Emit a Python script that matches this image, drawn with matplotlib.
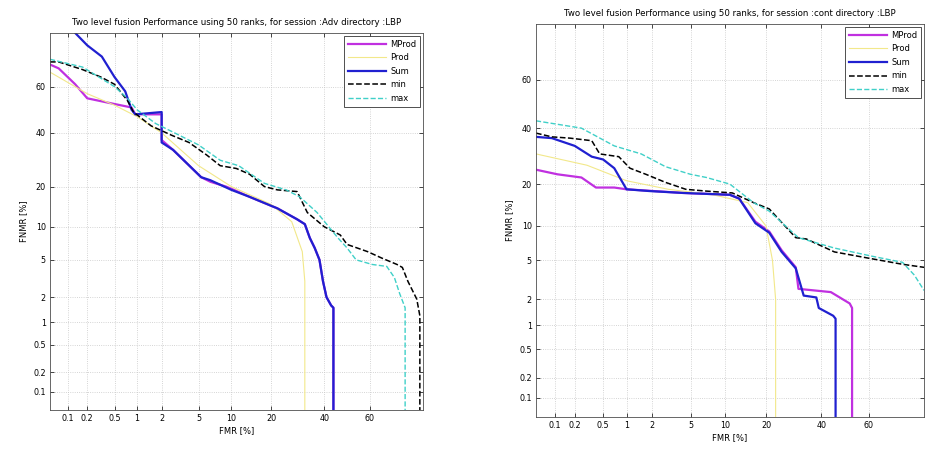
import math
import numpy as np
import matplotlib
matplotlib.use("Agg")
import matplotlib.pyplot as plt
from matplotlib.ticker import FixedLocator, NullLocator

# ---- data: FMR [%] / FNMR [%] pairs ----
labels = ["MProd", "Prod", "Sum", "min", "max"]
ticks = [0.1, 0.2, 0.5, 1, 2, 5, 10, 20, 40, 60]
tick_labels = ["0.1", "0.2", "0.5", "1", "2", "5", "10", "20", "40", "60"]

# left panel, session :Adv
mprod_L_far = [0.05, 0.07, 0.13, 0.2, 0.42, 0.85, 0.95, 2, 2, 2.7, 5.3, 6.5, 9, 10.5, 14, 22, 29, 32, 34, 36, 38, 39.5, 41, 43, 44, 44]
mprod_L_frr = [69, 67.5, 61, 55, 53, 51, 48, 48, 37, 33, 23, 21.5, 20, 19, 17, 14, 11.5, 10.5, 8, 6.5, 5, 3, 2, 1.6, 1.5, 0.01]
prod_L_far = [0.05, 0.2, 0.5, 1, 2, 5, 10, 20, 27, 31, 32, 32]
prod_L_frr = [66, 57, 52, 47, 40, 27, 20, 15, 11, 6, 3, 0.01]
sum_L_far = [0.1, 0.13, 0.2, 0.33, 0.5, 0.7, 0.85, 0.95, 2, 2, 2.7, 5.3, 6.5, 10, 14, 22, 29, 32, 34, 36, 38, 39.5, 41, 43, 44, 44]
sum_L_frr = [85, 80, 76, 72, 64, 58, 50, 48, 49, 36, 33, 23, 22, 19, 17, 14, 11.5, 10.5, 8, 6.5, 5, 3, 2, 1.6, 1.5, 0.01]
min_L_far = [0.05, 0.07, 0.17, 0.32, 0.5, 0.75, 0.9, 1.5, 2.6, 4, 6, 8, 11, 14, 18, 22, 29, 33, 40, 47, 50, 59, 65, 71, 73, 75, 78, 79, 79]
min_L_frr = [70, 70, 67, 64, 61, 54, 49, 43, 39, 36, 31, 27, 26, 24, 20, 19, 18.5, 13, 10, 8.5, 7, 6, 5.2, 4.5, 4.2, 3, 1.9, 1.2, 0.01]
max_L_far = [0.05, 0.17, 0.5, 0.75, 1, 1.7, 2.8, 5, 8, 11.5, 18, 25, 30, 37, 46, 50, 54, 61, 67, 70, 72, 74, 74]
max_L_frr = [71, 68, 60, 55, 50, 44, 40, 35, 29, 27, 21, 19, 17, 13, 8, 6.5, 5, 4.5, 4.3, 3.3, 2.2, 1.5, 0.01]

# right panel, session :cont
mprod_R_far = [0.05, 0.11, 0.25, 0.4, 0.7, 1, 4.2, 11, 13, 17, 21, 25, 30, 31, 44, 52, 53, 53]
mprod_R_frr = [24.5, 23, 22, 19, 19, 18.5, 17.5, 17, 16, 10.8, 9, 6.2, 4.3, 2.6, 2.4, 1.8, 1.6, 0.01]
prod_R_far = [0.05, 0.3, 1, 3, 8, 15, 20, 22, 23, 23]
prod_R_frr = [30, 26, 21, 18.5, 17, 15, 10, 5, 2, 0.01]
sum_R_far = [0.05, 0.09, 0.2, 0.35, 0.5, 0.7, 1, 1.9, 4.2, 11, 13, 17, 21, 25, 30, 33, 38, 39, 45, 46, 46]
sum_R_frr = [36.5, 36, 33, 29, 28, 25, 18.5, 18, 17.5, 17, 16, 10.5, 8.8, 6, 4.2, 2.2, 2.1, 1.6, 1.3, 1.2, 0.01]
min_R_far = [0.05, 0.09, 0.17, 0.35, 0.45, 0.8, 1.1, 1.7, 2.8, 4.5, 7, 11.5, 16.5, 21, 30, 34, 45.5, 61, 73, 80]
min_R_frr = [38, 36.5, 36, 35, 30, 29, 25, 23, 20.5, 18.5, 18, 17.5, 15, 13.5, 8, 7.8, 6, 5.2, 4.6, 4.3]
max_R_far = [0.05, 0.25, 0.7, 1.5, 2.8, 5, 7, 11, 16.5, 21, 31, 45.5, 61, 73, 77, 80]
max_R_frr = [43, 40, 33, 30, 25.5, 23, 22, 20, 15, 13, 8, 6.5, 5.5, 4.8, 3.6, 2.5]

titles = ["Two level fusion Performance using 50 ranks, for session :Adv directory :LBP",
          "Two level fusion Performance using 50 ranks, for session :cont directory :LBP"]


# normal deviate (DET) scale, percent in -> probit out
A = [-3.969683028665376e+01, 2.209460984245205e+02, -2.759285104469687e+02,
     1.383577518672690e+02, -3.066479806614716e+01, 2.506628277459239e+00]
B = [-5.447609879822406e+01, 1.615858368580409e+02, -1.556989798598866e+02,
     6.680131188771972e+01, -1.328068155288572e+01, 1.0]
C = [-7.784894002430293e-03, -3.223964580411365e-01, -2.400758277161838e+00,
     -2.549732539343734e+00, 4.374664141464968e+00, 2.938163982698783e+00]
D = [7.784695709041462e-03, 3.224671290700398e-01, 2.445134137142996e+00,
     3.754408661907416e+00, 1.0]


def probit(pct):
    p = np.clip(np.asarray(pct, float) / 100.0, 1e-10, 1 - 1e-10)
    x = np.zeros_like(p)
    lo = p < 0.02425
    hi = p > 1 - 0.02425
    mid = ~(lo | hi)
    q = np.sqrt(-2 * np.log(p[lo]))
    x[lo] = np.polyval(C, q) / np.polyval(D, q)
    q = p[mid] - 0.5
    r = q * q
    x[mid] = np.polyval(A, r) * q / np.polyval(B, r)
    q = np.sqrt(-2 * np.log(1 - p[hi]))
    x[hi] = -np.polyval(C, q) / np.polyval(D, q)
    return x


_erf = np.vectorize(math.erf)


def inv_probit(u):
    u = np.asarray(u, float)
    return 50.0 * (1 + _erf(u / math.sqrt(2)))


def det_axes(ax, title):
    ax.set_xscale("function", functions=(probit, inv_probit))
    ax.set_yscale("function", functions=(probit, inv_probit))
    ax.set_xlim(0.05, 80)
    ax.set_ylim(0.05, 80)
    for axis in (ax.xaxis, ax.yaxis):
        axis.set_major_locator(FixedLocator(ticks))
        axis.set_minor_locator(NullLocator())
    ax.set_xticklabels(tick_labels)
    ax.set_yticklabels(tick_labels)
    ax.grid(True, linestyle=":", color="0.78", linewidth=0.6)
    ax.tick_params(direction="in", length=3, width=0.5, top=True, right=True,
                   labelsize=5.8, pad=3)
    for s in ax.spines.values():
        s.set_linewidth(0.6)
        s.set_color("0.3")
    ax.set_title(title, fontsize=6.2, pad=6)
    ax.set_xlabel("FMR [%]", fontsize=6, labelpad=2)
    ax.set_ylabel("FNMR [%]", fontsize=6, labelpad=4)


fig = plt.figure(figsize=(9.33, 4.53), dpi=100)
ax1 = fig.add_axes([0.0536, 0.0949, 0.3998, 0.8323])
ax2 = fig.add_axes([0.5745, 0.0795, 0.4159, 0.8675])

panels = [
    (ax1, titles[0], [(mprod_L_far, mprod_L_frr), (prod_L_far, prod_L_frr), (sum_L_far, sum_L_frr),
                      (min_L_far, min_L_frr), (max_L_far, max_L_frr)]),
    (ax2, titles[1], [(mprod_R_far, mprod_R_frr), (prod_R_far, prod_R_frr), (sum_R_far, sum_R_frr),
                      (min_R_far, min_R_frr), (max_R_far, max_R_frr)]),
]
styles = [
    dict(color="#c030e0", lw=1.6, ls="-"),
    dict(color="#f2e88a", lw=0.8, ls="-"),
    dict(color="#2020d0", lw=1.6, ls="-"),
    dict(color="black", lw=1.1, ls="--"),
    dict(color="#40d0c8", lw=1.0, ls="--"),
]

for ax, title, series in panels:
    det_axes(ax, title)
    for (far, frr), lab, st in zip(series, labels, styles):
        ax.plot(far, frr, label=lab, **st)
    leg = ax.legend(loc="upper right", fontsize=6, fancybox=False, framealpha=1,
                    edgecolor="0.2", handlelength=4.6, borderaxespad=0.35,
                    labelspacing=0.55, borderpad=0.45, handletextpad=0.5)
    leg.get_frame().set_linewidth(0.6)

fig.savefig("out.png", dpi=100)
